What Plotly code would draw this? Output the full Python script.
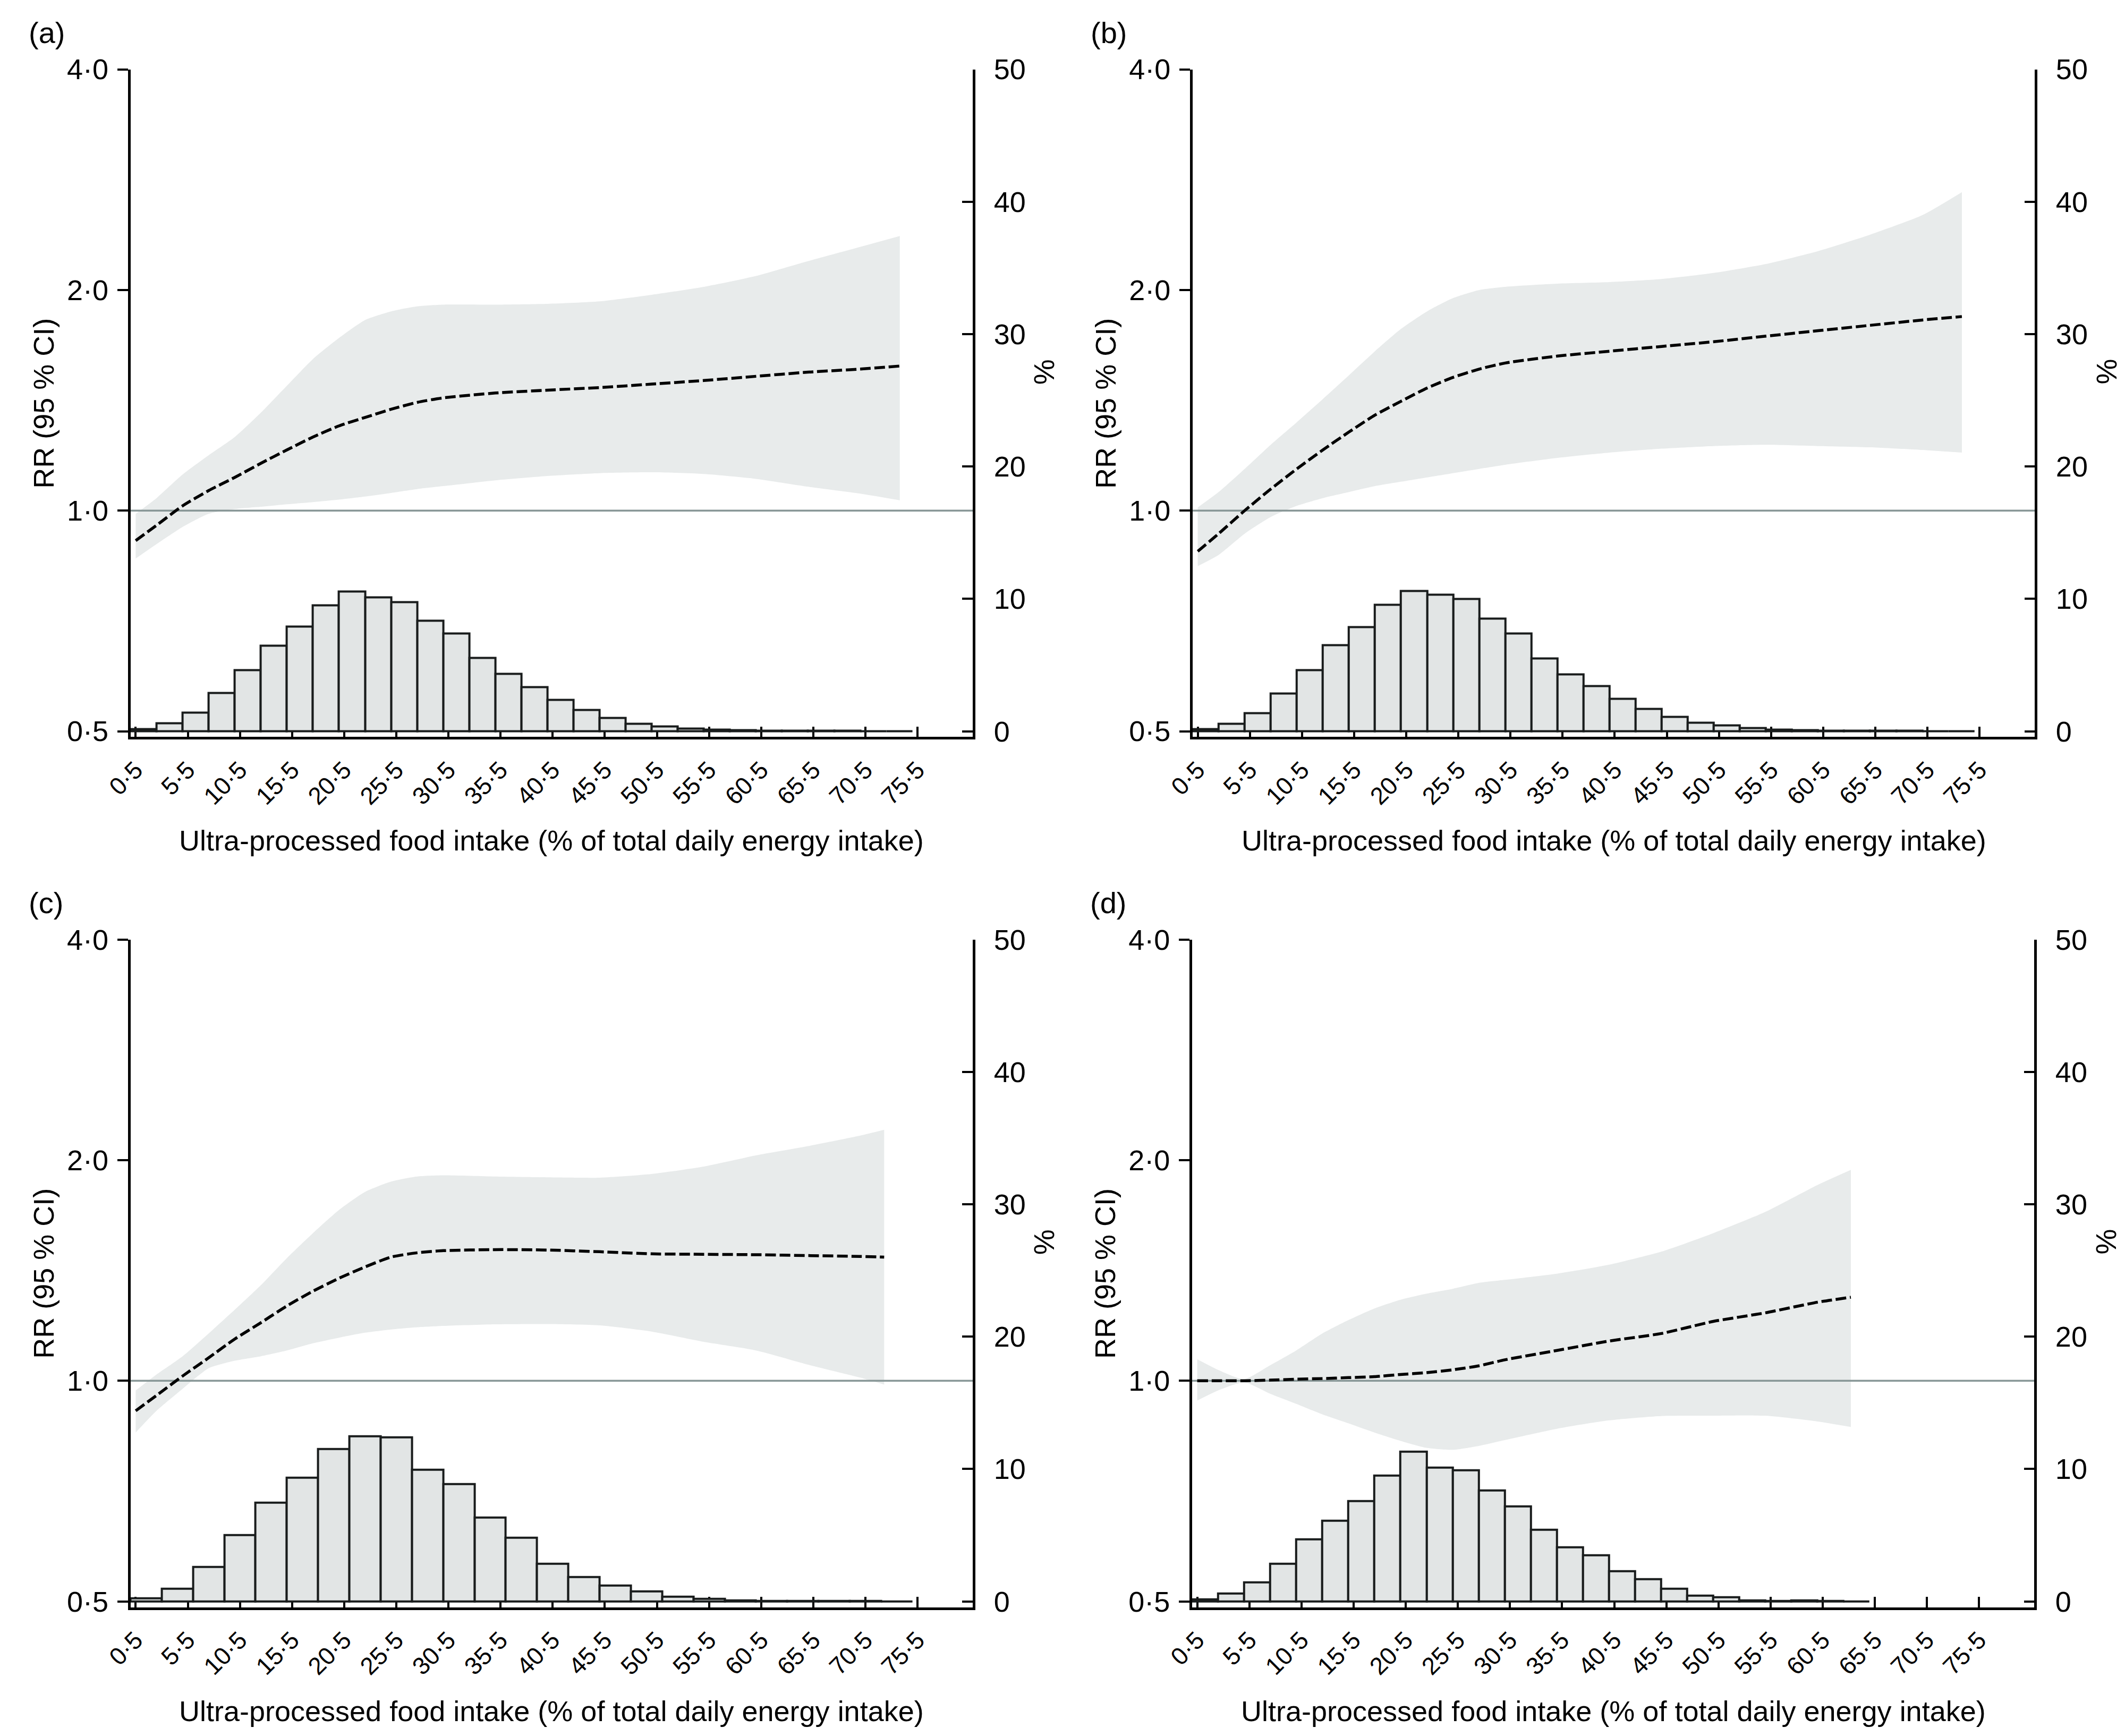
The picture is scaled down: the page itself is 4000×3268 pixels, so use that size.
import math
import plotly.graph_objects as go

W, H = 4000, 3268

# ---------------- data ----------------
x_tick_vals = [0.5, 5.5, 10.5, 15.5, 20.5, 25.5, 30.5, 35.5, 40.5, 45.5, 50.5, 55.5, 60.5, 65.5, 70.5, 75.5]
x_tick_text = ["0·5", "5·5", "10·5", "15·5", "20·5", "25·5", "30·5", "35·5", "40·5", "45·5",
               "50·5", "55·5", "60·5", "65·5", "70·5", "75·5"]
rr_tick_vals = [0.5, 1.0, 2.0, 4.0]
rr_tick_text = ["0·5", "1·0", "2·0", "4·0"]
pct_tick_vals = [0, 10, 20, 30, 40, 50]
x_title = "Ultra-processed food intake (% of total daily energy intake)"
rr_title = "RR (95 % CI)"
pct_title = "%"
ref_rr = 1.0

a_x = [0.5, 2.5, 5, 7.5, 10, 12.5, 15, 17.5, 20, 22.5, 25, 27.5, 30, 35, 40, 45, 50, 55, 60, 65, 70, 73.8]
a_rr = [0.91, 0.955, 1.015, 1.065, 1.11, 1.16, 1.21, 1.26, 1.305, 1.34, 1.375, 1.405, 1.425, 1.447, 1.46,
        1.472, 1.488, 1.505, 1.525, 1.545, 1.56, 1.575]
a_hi = [0.99, 1.04, 1.12, 1.19, 1.26, 1.36, 1.48, 1.61, 1.72, 1.82, 1.87, 1.9, 1.91, 1.91, 1.915, 1.93,
        1.97, 2.02, 2.09, 2.19, 2.29, 2.37]
a_lo = [0.86, 0.9, 0.95, 0.99, 1.005, 1.012, 1.02, 1.027, 1.035, 1.045, 1.057, 1.07, 1.08, 1.1, 1.115,
        1.125, 1.128, 1.122, 1.105, 1.078, 1.055, 1.033]
a_binw = 2.5
a_pct = [0.15, 0.6, 1.4, 2.9, 4.6, 6.45, 7.9, 9.5, 10.55, 10.1, 9.75, 8.35, 7.4, 5.55, 4.35, 3.35, 2.35,
         1.6, 1.0, 0.58, 0.38, 0.22, 0.12, 0.08, 0.05, 0.04, 0.03, 0.03, 0.02, 0.02]

b_x = [0.5, 2.5, 5, 7.5, 10, 12.5, 15, 17.5, 20, 22.5, 25, 27.5, 30, 35, 40, 45, 50, 55, 60, 65, 70, 73.8]
b_rr = [0.88, 0.93, 1.0, 1.07, 1.14, 1.21, 1.28, 1.35, 1.41, 1.47, 1.52, 1.56, 1.59, 1.625, 1.65, 1.675,
        1.7, 1.73, 1.76, 1.79, 1.82, 1.84]
b_hi = [1.01, 1.06, 1.14, 1.23, 1.32, 1.42, 1.53, 1.65, 1.77, 1.87, 1.95, 2.0, 2.02, 2.04, 2.05, 2.07,
        2.11, 2.17, 2.26, 2.38, 2.53, 2.72]
b_lo = [0.84, 0.87, 0.93, 0.98, 1.015, 1.04, 1.06, 1.08, 1.095, 1.11, 1.125, 1.14, 1.155, 1.18, 1.2, 1.215,
        1.225, 1.23, 1.225, 1.22, 1.21, 1.2]
b_binw = 2.5
b_pct = [0.15, 0.55, 1.35, 2.85, 4.6, 6.5, 7.85, 9.55, 10.6, 10.3, 10.0, 8.5, 7.4, 5.5, 4.3, 3.4, 2.45,
         1.7, 1.1, 0.65, 0.45, 0.25, 0.12, 0.08, 0.05, 0.04, 0.03, 0.03, 0.02, 0.02]

c_x = [0.5, 2.5, 5, 7.5, 10, 12.5, 15, 17.5, 20, 22.5, 25, 27.5, 30, 35, 40, 45, 50, 55, 60, 65, 70, 72.3]
c_rr = [0.91, 0.955, 1.015, 1.075, 1.14, 1.2, 1.265, 1.325, 1.38, 1.43, 1.475, 1.495, 1.505, 1.51, 1.508,
        1.5, 1.49, 1.488, 1.486, 1.482, 1.478, 1.475]
c_hi = [0.97, 1.02, 1.08, 1.16, 1.25, 1.35, 1.47, 1.59, 1.71, 1.81, 1.87, 1.9, 1.907, 1.9, 1.895, 1.893,
        1.915, 1.96, 2.03, 2.09, 2.16, 2.2]
c_lo = [0.85, 0.91, 0.975, 1.04, 1.065, 1.08, 1.1, 1.125, 1.145, 1.163, 1.175, 1.183, 1.188, 1.194, 1.195,
        1.19, 1.167, 1.13, 1.1, 1.052, 1.01, 0.988]
c_binw = 3.0
c_pct = [0.24, 0.95, 2.6, 5.0, 7.45, 9.35, 11.5, 12.5, 12.4, 9.95, 8.85, 6.35, 4.8, 2.85, 1.85, 1.2, 0.75,
         0.38, 0.22, 0.1, 0.05, 0.04, 0.03, 0.03, 0.02]

d_x = [0.5, 2.5, 5, 7.5, 10, 12.5, 15, 17.5, 20, 22.5, 25, 27.5, 30, 35, 40, 45, 50, 55, 60, 63.2]
d_rr = [1.0, 1.0, 1.0, 1.002, 1.005, 1.007, 1.01, 1.013, 1.02, 1.026, 1.035, 1.048, 1.068, 1.1, 1.133,
        1.16, 1.205, 1.238, 1.28, 1.3]
d_hi = [1.07, 1.035, 1.005, 1.05, 1.1, 1.16, 1.21, 1.255, 1.29, 1.315, 1.335, 1.36, 1.373, 1.4, 1.44,
        1.5, 1.59, 1.7, 1.85, 1.94]
d_lo = [0.94, 0.97, 0.995, 0.96, 0.93, 0.9, 0.875, 0.85, 0.828, 0.81, 0.805, 0.815, 0.83, 0.86, 0.883,
        0.895, 0.896, 0.896, 0.88, 0.865]
d_binw = 2.5
d_pct = [0.16, 0.6, 1.45, 2.85, 4.7, 6.1, 7.6, 9.5, 11.3, 10.1, 9.9, 8.4, 7.2, 5.4, 4.1, 3.5, 2.3, 1.7,
         0.95, 0.45, 0.32, 0.1, 0.04, 0.1, 0.03, 0.02]

panel_labels = ["(a)", "(b)", "(c)", "(d)"]

# ---------------- styling / layout ----------------
FONT = "Liberation Sans, Arial, sans-serif"
CI_FILL = "rgb(232,235,235)"
BAR_FILL = "rgb(226,229,229)"
BAR_LINE = "rgb(25,28,28)"
REF_LINE = "rgb(135,150,150)"
X_RANGE = [0, 80.8]
RR_RANGE = [math.log10(0.5) - 0.0079, math.log10(4.0)]
PCT_RANGE = [-0.435, 50]
OFF = 8  # default page margin of the html body


def px(xp):
    return (xp - OFF) / W


def py(yp):
    return 1 - (yp - OFF) / H


# pixel geometry of each panel: left axis x, right axis x, top y, bottom (x-axis) y
geo = [
    dict(l=197, r=1803, t=102, b=1378),
    dict(l=2222, r=3828, t=102, b=1378),
    dict(l=197, r=1803, t=1765, b=3041),
    dict(l=2221, r=3827, t=1765, b=3041),
]

panels = [
    (a_x, a_rr, a_lo, a_hi, a_binw, a_pct),
    (b_x, b_rr, b_lo, b_hi, b_binw, b_pct),
    (c_x, c_rr, c_lo, c_hi, c_binw, c_pct),
    (d_x, d_rr, d_lo, d_hi, d_binw, d_pct),
]

fig = go.Figure()
layout = dict(
    width=W, height=H, margin=dict(l=0, r=0, t=0, b=0),
    paper_bgcolor="white", plot_bgcolor="rgba(0,0,0,0)",
    showlegend=False, font=dict(family=FONT, color="black"),
)
annotations = []

for i, (xs, rr, lo, hi, binw, pct) in enumerate(panels):
    g = geo[i]
    n = i + 1
    xname = "x" if n == 1 else f"x{n}"
    ypct = "y" if n == 1 else f"y{2 * i + 1}"
    ylog = f"y{2 * i + 2}"
    xkey = "xaxis" if n == 1 else f"xaxis{n}"
    ypkey = "yaxis" if n == 1 else f"yaxis{2 * i + 1}"
    ylkey = f"yaxis{2 * i + 2}"

    centers = [binw * (k + 0.5) for k in range(len(pct))]
    fig.add_trace(go.Bar(
        x=centers, y=pct, width=binw, xaxis=xname, yaxis=ypct,
        marker=dict(color=BAR_FILL, line=dict(color=BAR_LINE, width=4)),
        hoverinfo="skip",
    ))
    fig.add_trace(go.Scatter(
        x=xs, y=lo, mode="lines", line=dict(width=0, shape="spline", smoothing=0.6, color=CI_FILL),
        xaxis=xname, yaxis=ylog, hoverinfo="skip",
    ))
    fig.add_trace(go.Scatter(
        x=xs, y=hi, mode="lines", fill="tonexty", fillcolor=CI_FILL,
        line=dict(width=0, shape="spline", smoothing=0.6, color=CI_FILL),
        xaxis=xname, yaxis=ylog, hoverinfo="skip",
    ))
    fig.add_trace(go.Scatter(
        x=X_RANGE, y=[ref_rr, ref_rr], mode="lines",
        line=dict(color=REF_LINE, width=3.5), xaxis=xname, yaxis=ylog, hoverinfo="skip",
    ))
    fig.add_trace(go.Scatter(
        x=xs, y=rr, mode="lines",
        line=dict(color="black", width=5.5, dash="20px,7px", shape="spline", smoothing=0.6),
        xaxis=xname, yaxis=ylog, hoverinfo="skip",
    ))

    xdom = [px(g["l"]), px(g["r"])]
    ydom = [py(g["b"]), py(g["t"])]
    layout[xkey] = dict(
        domain=xdom, range=X_RANGE, anchor=ypct,
        tickmode="array", tickvals=x_tick_vals, ticktext=x_tick_text, tickangle=-45,
        ticks="inside", ticklen=20, tickwidth=3.5, tickcolor="black",
        showline=True, linecolor="black", linewidth=4.5,
        showgrid=False, zeroline=False, layer="below traces",
        tickfont=dict(size=46, family=FONT, color="black"), ticklabelstandoff=12,
    )
    layout[ypkey] = dict(
        domain=ydom, range=PCT_RANGE, anchor=xname, side="right",
        tickmode="array", tickvals=pct_tick_vals,
        ticks="inside", ticklen=20, tickwidth=4, tickcolor="black",
        showline=True, linecolor="black", linewidth=4.5,
        showgrid=False, zeroline=False,
        tickfont=dict(size=54, family=FONT, color="black"), ticklabelstandoff=24,
    )
    layout[ylkey] = dict(
        type="log", range=RR_RANGE, overlaying=ypct, anchor=xname, side="left",
        tickmode="array", tickvals=rr_tick_vals, ticktext=rr_tick_text,
        ticks="outside", ticklen=20, tickwidth=4, tickcolor="black",
        showline=True, linecolor="black", linewidth=4.5,
        showgrid=False, zeroline=False,
        tickfont=dict(size=54, family=FONT, color="black"), ticklabelstandoff=6,
    )

    # panel label
    annotations.append(dict(
        text=panel_labels[i], x=px(g["l"] - 196), y=py(g["t"] - 104),
        xref="paper", yref="paper", xanchor="left", yanchor="top", showarrow=False,
        font=dict(size=56, family=FONT, color="black"),
    ))
    # x title
    annotations.append(dict(
        text=x_title, x=px((g["l"] + g["r"]) / 2), y=py(g["b"] + 198),
        xref="paper", yref="paper", xanchor="center", yanchor="middle", showarrow=False,
        font=dict(size=54, family=FONT, color="black"),
    ))
    # left y title
    annotations.append(dict(
        text=rr_title, x=px(g["l"] - 166), y=py((g["t"] + g["b"]) / 2),
        xref="paper", yref="paper", xanchor="center", yanchor="middle", showarrow=False,
        textangle=-90, font=dict(size=54, family=FONT, color="black"),
    ))
    # right y title
    annotations.append(dict(
        text=pct_title, x=px(g["r"] + 136), y=py((g["t"] + g["b"]) / 2 - 60),
        xref="paper", yref="paper", xanchor="center", yanchor="middle", showarrow=False,
        textangle=-90, font=dict(size=54, family=FONT, color="black"),
    ))

layout["annotations"] = annotations
layout["bargap"] = 0
fig.update_layout(**layout)
fig.write_html("out.html")
